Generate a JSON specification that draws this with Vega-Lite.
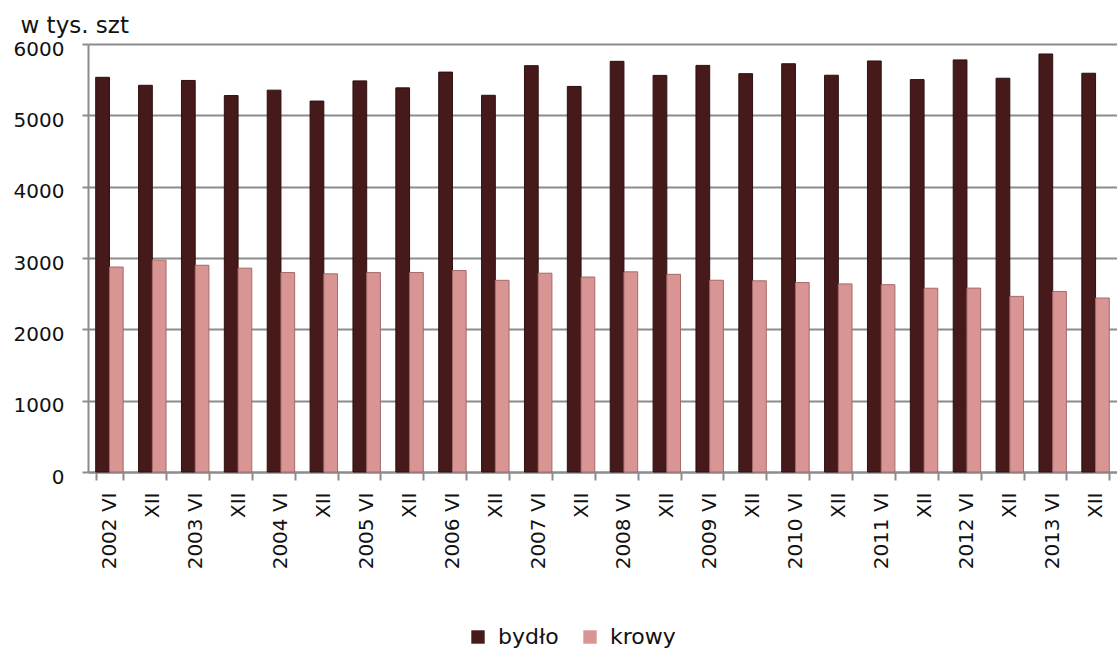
{
  "$schema": "https://vega.github.io/schema/vega-lite/v6.json",
  "autosize": {"type": "none"},
  "padding": {"left": 88, "top": 44, "right": 0, "bottom": 179},
  "width": 1029,
  "height": 428,
  "background": "white",
  "config": {
    "font": "DejaVu Sans",
    "view": {"stroke": null},
    "axis": {"labelFont": "DejaVu Sans", "titleFont": "DejaVu Sans"},
    "legend": {"labelFont": "DejaVu Sans"}
  },
  "data": {
    "values": [
      {"okres": "2002 VI", "seria": "bydło", "wartosc": 5533},
      {"okres": "2002 VI", "seria": "krowy", "wartosc": 2873},
      {"okres": "2002 XII", "seria": "bydło", "wartosc": 5421},
      {"okres": "2002 XII", "seria": "krowy", "wartosc": 2970},
      {"okres": "2003 VI", "seria": "bydło", "wartosc": 5489},
      {"okres": "2003 VI", "seria": "krowy", "wartosc": 2898},
      {"okres": "2003 XII", "seria": "bydło", "wartosc": 5277},
      {"okres": "2003 XII", "seria": "krowy", "wartosc": 2858},
      {"okres": "2004 VI", "seria": "bydło", "wartosc": 5353},
      {"okres": "2004 VI", "seria": "krowy", "wartosc": 2796},
      {"okres": "2004 XII", "seria": "bydło", "wartosc": 5200},
      {"okres": "2004 XII", "seria": "krowy", "wartosc": 2778},
      {"okres": "2005 VI", "seria": "bydło", "wartosc": 5483},
      {"okres": "2005 VI", "seria": "krowy", "wartosc": 2795},
      {"okres": "2005 XII", "seria": "bydło", "wartosc": 5385},
      {"okres": "2005 XII", "seria": "krowy", "wartosc": 2797},
      {"okres": "2006 VI", "seria": "bydło", "wartosc": 5606},
      {"okres": "2006 VI", "seria": "krowy", "wartosc": 2824},
      {"okres": "2006 XII", "seria": "bydło", "wartosc": 5281},
      {"okres": "2006 XII", "seria": "krowy", "wartosc": 2687},
      {"okres": "2007 VI", "seria": "bydło", "wartosc": 5696},
      {"okres": "2007 VI", "seria": "krowy", "wartosc": 2787},
      {"okres": "2007 XII", "seria": "bydło", "wartosc": 5405},
      {"okres": "2007 XII", "seria": "krowy", "wartosc": 2733},
      {"okres": "2008 VI", "seria": "bydło", "wartosc": 5757},
      {"okres": "2008 VI", "seria": "krowy", "wartosc": 2806},
      {"okres": "2008 XII", "seria": "bydło", "wartosc": 5560},
      {"okres": "2008 XII", "seria": "krowy", "wartosc": 2771},
      {"okres": "2009 VI", "seria": "bydło", "wartosc": 5700},
      {"okres": "2009 VI", "seria": "krowy", "wartosc": 2688},
      {"okres": "2009 XII", "seria": "bydło", "wartosc": 5584},
      {"okres": "2009 XII", "seria": "krowy", "wartosc": 2680},
      {"okres": "2010 VI", "seria": "bydło", "wartosc": 5723},
      {"okres": "2010 VI", "seria": "krowy", "wartosc": 2656},
      {"okres": "2010 XII", "seria": "bydło", "wartosc": 5562},
      {"okres": "2010 XII", "seria": "krowy", "wartosc": 2637},
      {"okres": "2011 VI", "seria": "bydło", "wartosc": 5762},
      {"okres": "2011 VI", "seria": "krowy", "wartosc": 2626},
      {"okres": "2011 XII", "seria": "bydło", "wartosc": 5501},
      {"okres": "2011 XII", "seria": "krowy", "wartosc": 2576},
      {"okres": "2012 VI", "seria": "bydło", "wartosc": 5777},
      {"okres": "2012 VI", "seria": "krowy", "wartosc": 2578},
      {"okres": "2012 XII", "seria": "bydło", "wartosc": 5520},
      {"okres": "2012 XII", "seria": "krowy", "wartosc": 2462},
      {"okres": "2013 VI", "seria": "bydło", "wartosc": 5860},
      {"okres": "2013 VI", "seria": "krowy", "wartosc": 2531},
      {"okres": "2013 XII", "seria": "bydło", "wartosc": 5590},
      {"okres": "2013 XII", "seria": "krowy", "wartosc": 2439}
    ]
  },
  "mark": {"type": "bar", "strokeWidth": 1},
  "encoding": {
    "x": {
      "field": "okres",
      "type": "nominal",
      "sort": null,
      "scale": {"paddingInner": 0.36, "paddingOuter": 0.18},
      "axis": {
        "title": null,
        "labelAngle": -90,
        "labelFontSize": 20,
        "labelColor": "#111111",
        "labelPadding": 12,
        "labelExpr": "indexof(datum.label, 'XII') >= 0 ? 'XII' : datum.label",
        "tickBand": "extent",
        "tickSize": 8,
        "tickColor": "#8c8c8c",
        "tickWidth": 2,
        "domainColor": "#8c8c8c",
        "domainWidth": 2,
        "grid": false
      }
    },
    "xOffset": {"field": "seria", "type": "nominal", "sort": ["bydło", "krowy"], "scale": {"paddingInner": 0}},
    "y": {
      "field": "wartosc",
      "type": "quantitative",
      "scale": {"domain": [0, 6000], "nice": false},
      "axis": {
        "values": [0, 1000, 2000, 3000, 4000, 5000, 6000],
        "format": "d",
        "title": "w tys. szt",
        "titleAngle": 0,
        "titleAlign": "left",
        "titleBaseline": "alphabetic",
        "titleX": -68,
        "titleY": -12,
        "titleFontSize": 23,
        "titleFontWeight": "normal",
        "titleColor": "#111111",
        "labelFontSize": 20,
        "labelColor": "#111111",
        "labelPadding": 18,
        "labelOffset": 5,
        "labelBound": false,
        "tickSize": 6,
        "tickColor": "#8c8c8c",
        "tickWidth": 2,
        "domainColor": "#8c8c8c",
        "domainWidth": 2,
        "grid": true,
        "gridColor": "#8c8c8c",
        "gridWidth": 2
      }
    },
    "color": {
      "field": "seria",
      "type": "nominal",
      "sort": ["bydło", "krowy"],
      "scale": {"domain": ["bydło", "krowy"], "range": ["#461a1a", "#d99594"]},
      "legend": {
        "title": null,
        "orient": "none",
        "direction": "horizontal",
        "legendX": 379,
        "legendY": 582,
        "padding": 0,
        "symbolType": "square",
        "symbolSize": 180,
        "symbolStrokeWidth": 0,
        "labelFontSize": 22,
        "labelColor": "#111111",
        "labelOffset": 9,
        "columnPadding": 20
      }
    },
    "stroke": {
      "field": "seria",
      "type": "nominal",
      "scale": {"domain": ["bydło", "krowy"], "range": ["#2c0f0f", "#a46a68"]},
      "legend": null
    }
  }
}
